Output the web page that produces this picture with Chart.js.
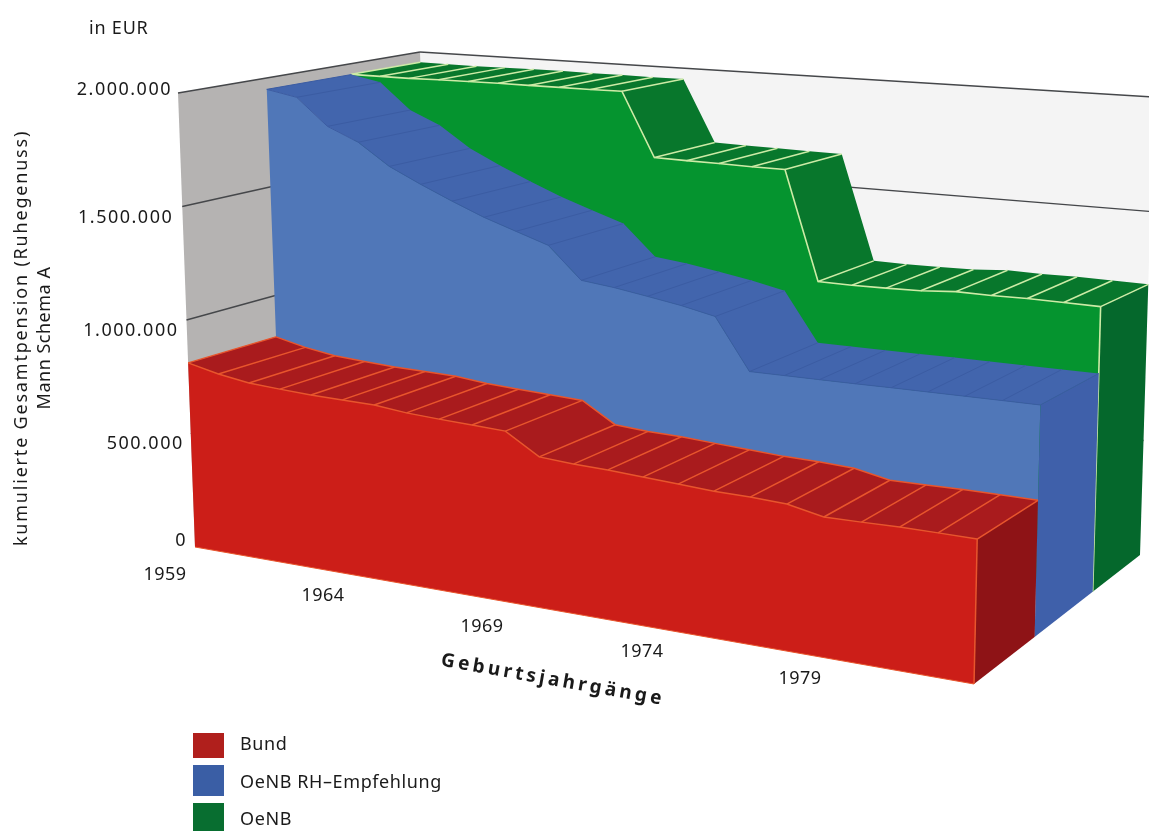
<!DOCTYPE html>
<html lang="de">
<head>
<meta charset="utf-8">
<title>Kumulierte Gesamtpension</title>
<style>
  html, body { margin: 0; padding: 0; background: #ffffff; }
  canvas { display: block; }
</style>
<script src="https://cdn.jsdelivr.net/npm/chart.js@4"></script>
</head>
<body>
<canvas id="chart" width="1149" height="831"></canvas>
<script>
// Birth cohorts and cumulated pension per cohort, in EUR
const birthYears = [1959,1960,1961,1962,1963,1964,1965,1966,1967,1968,1969,1970,
                    1971,1972,1973,1974,1975,1976,1977,1978,1979,1980,1981,1982];
const bund = [811000,779000,757000,748000,740000,737000,733000,718000,710000,704000,697000,611000,
              601000,597000,588000,580000,572000,569000,562000,533000,534000,536000,535000,533000];
const oenbEmpfehlung = [1948000,1920000,1797000,1735000,1637000,1568000,1505000,1446000,1397000,1349000,1212000,1195000,
                        1172000,1148000,1117000,904000,904000,904000,904000,905000,905000,905000,905000,905000];
const oenb = [1949000,1948000,1947000,1949000,1950000,1950000,1949000,1949000,1948000,1949000,1659000,1656000,
              1654000,1651000,1650000,1172000,1170000,1172000,1175000,1186000,1184000,1186000,1184000,1182000];
const valueTicks = [0, 500000, 1000000, 1500000, 2000000];
const yearTicks = [1959, 1964, 1969, 1974, 1979];
const seriesNames = ['Bund', 'OeNB RH\u2013Empfehlung', 'OeNB'];

// Value range of the vertical axis
const VALUE_MAX = 2000000;

// Canvas-space corners of the 3D plot box: [year end][depth end][value end]
const BOX = [
  [[[195, 547], [178, 93]], [[435, 455], [420, 52]]],
  [[[974, 684], [986, 140]], [[1140, 555], [1154, 97]]]
];
// Foreshortening of the year axis
const YEAR_PERSPECTIVE = 1.15;

// Depth band and colours of each ribbon
const RIBBONS = [
  { values: oenb, near: 0.715, far: 1.00, front: '#05942f', top: '#08772c', side: '#05682c', edge: '#cdeba6', edgeWidth: 1.6, stripeWidth: 1.5 },
  { values: oenbEmpfehlung, near: 0.365, far: 0.715, front: '#5077b8', top: '#4265ad', side: '#3f60aa', edge: '#3b5ca3', edgeWidth: 1, stripeWidth: 1 },
  { values: bund, near: 0.00, far: 0.365, front: '#cc1e18', top: '#a91b1d', side: '#8e1316', edge: '#e8552c', edgeWidth: 1.5, stripeWidth: 1.5, backEdge: true, floorEdge: true }
];
const LEGEND_COLORS = ['#b01f1c', '#3a5ea5', '#086e30'];

function lerp(a, b, f) { return a + (b - a) * f; }

// Position along the year axis for a fractional cohort index
function yearPosition(index) {
  const u = index / (birthYears.length - 1);
  return u / (u + YEAR_PERSPECTIVE * (1 - u));
}

// Trilinear projection from (year position, depth, value) to canvas space
function project(t, d, value) {
  const v = value / VALUE_MAX;
  const pick = axis => lerp(
    lerp(lerp(BOX[0][0][0][axis], BOX[0][0][1][axis], v), lerp(BOX[0][1][0][axis], BOX[0][1][1][axis], v), d),
    lerp(lerp(BOX[1][0][0][axis], BOX[1][0][1][axis], v), lerp(BOX[1][1][0][axis], BOX[1][1][1][axis], v), d),
    t);
  return { x: pick(0), y: pick(1) };
}

const datasets = [];
function addShape(points, fillColor, lineColor, lineWidth) {
  datasets.push({
    data: points,
    faceColor: fillColor || null,
    borderColor: lineColor || 'transparent',
    borderWidth: lineColor ? lineWidth : 0,
    order: -datasets.length
  });
}

// Walls of the plot box
addShape([project(0, 1, 0), project(0, 1, VALUE_MAX), project(1, 1, VALUE_MAX), project(1, 1, 0)], '#f4f4f4');
addShape([project(0, 0, 0), project(0, 0, VALUE_MAX), project(0, 1, VALUE_MAX), project(0, 1, 0)], '#b5b3b2');

// Value gridlines run across the left wall and along the back wall
valueTicks.filter(v => v > 0).forEach(v => {
  const width = v === VALUE_MAX ? 1.6 : 1.3;
  addShape([project(0, 0, v), project(0, 1, v)], null, '#45474a', width);
  addShape([project(0, 1, v), project(1, 1, v)], null, '#45474a', width);
});

// Each ribbon: front face, top strip, cohort stripes, end cap, highlighted edges
RIBBONS.forEach(r => {
  const last = r.values.length - 1;
  const frontEdge = r.values.map((v, i) => project(yearPosition(i), r.near, v));
  const backEdge = r.values.map((v, i) => project(yearPosition(i), r.far, v));
  const floorNear = [project(1, r.near, 0), project(0, r.near, 0)];
  const floorFar = project(1, r.far, 0);

  addShape(frontEdge.concat(floorNear), r.front);
  addShape(frontEdge.concat(backEdge.slice().reverse()), r.top);
  addShape([frontEdge[last], backEdge[last], floorFar, floorNear[0]], r.side);
  frontEdge.forEach((p, i) => addShape([p, backEdge[i]], null, r.edge, r.stripeWidth));
  if (r.backEdge) addShape(backEdge, null, r.edge, r.edgeWidth);
  addShape(frontEdge, null, r.edge, r.edgeWidth);
  if (r !== RIBBONS[1]) addShape([frontEdge[last], floorNear[0]], null, r.edge, r.edgeWidth);
  if (r.floorEdge) addShape(floorNear, null, r.edge, 1);
});

// Fills the closed outline of any dataset that carries a face colour
const facePlugin = {
  id: 'faces',
  beforeDatasetDraw(chart, args) {
    const color = chart.data.datasets[args.index].faceColor;
    if (!color) return;
    const pts = args.meta.data;
    const ctx = chart.ctx;
    ctx.save();
    ctx.beginPath();
    pts.forEach((p, i) => (i ? ctx.lineTo(p.x, p.y) : ctx.moveTo(p.x, p.y)));
    ctx.closePath();
    ctx.fillStyle = color;
    ctx.fill();
    ctx.restore();
  }
};

const FONT = '"Noto Sans", sans-serif';
const VALUE_LABEL_SHIFT = { 0: [-8, -6], 500000: [-7, 10], 1000000: [-8, 11], 1500000: [-9, 11], 2000000: [-6, -3] };
const YEAR_LABEL_POS = { 1959: [165, 575], 1964: [323, 596], 1969: [482, 627], 1974: [642, 652], 1979: [800, 679] };

function text(ctx, str, x, y, opts) {
  const o = opts || {};
  ctx.save();
  ctx.translate(x, y);
  if (o.rotate) ctx.rotate(o.rotate);
  ctx.font = o.font || '18px ' + FONT;
  ctx.fillStyle = '#1a1a1a';
  ctx.textAlign = o.align || 'left';
  ctx.textBaseline = 'middle';
  ctx.letterSpacing = o.spacing || '0px';
  ctx.fillText(str, 0, 0);
  ctx.restore();
}

// Axis captions, tick labels and the key
const annotationPlugin = {
  id: 'annotations',
  afterDatasetsDraw(chart) {
    const ctx = chart.ctx;
    text(ctx, 'in EUR', 89, 29, { spacing: '0.8px' });
    valueTicks.forEach(v => {
      const p = project(0, 0, v);
      const s = VALUE_LABEL_SHIFT[v];
      text(ctx, v.toLocaleString('de-DE'), p.x + s[0], p.y + s[1], { align: 'right', spacing: '1.5px' });
    });
    yearTicks.forEach(y => text(ctx, String(y), YEAR_LABEL_POS[y][0], YEAR_LABEL_POS[y][1], { align: 'center', spacing: '0.5px' }));
    text(ctx, 'kumulierte Gesamtpension (Ruhegenuss)', 22, 338, { rotate: -Math.PI / 2, align: 'center', spacing: '1.8px' });
    text(ctx, 'Mann Schema A', 45, 338, { rotate: -Math.PI / 2, align: 'center', spacing: '0.5px' });
    text(ctx, 'Geburtsjahrg\u00e4nge', 553, 680, {
      rotate: 10 * Math.PI / 180, align: 'center', font: 'bold 19px ' + FONT, spacing: '3.4px'
    });
    const rows = [[733, 25, 745], [765, 31, 783], [803, 28, 820]];
    seriesNames.forEach((name, i) => {
      ctx.fillStyle = LEGEND_COLORS[i];
      ctx.fillRect(193, rows[i][0], 31, rows[i][1]);
      text(ctx, name, 240, rows[i][2], { spacing: '0.6px' });
    });
  }
};

new Chart(document.getElementById('chart'), {
  type: 'scatter',
  data: { datasets },
  options: {
    responsive: false,
    devicePixelRatio: 1,
    animation: false,
    layout: { padding: 0 },
    datasets: { scatter: { showLine: true, pointRadius: 0, tension: 0, fill: false, clip: false } },
    scales: {
      x: { type: 'linear', min: 0, max: 1149, display: false },
      y: { type: 'linear', min: 0, max: 831, reverse: true, display: false }
    },
    plugins: { legend: { display: false }, tooltip: { enabled: false } }
  },
  plugins: [facePlugin, annotationPlugin]
});
</script>
</body>
</html>
